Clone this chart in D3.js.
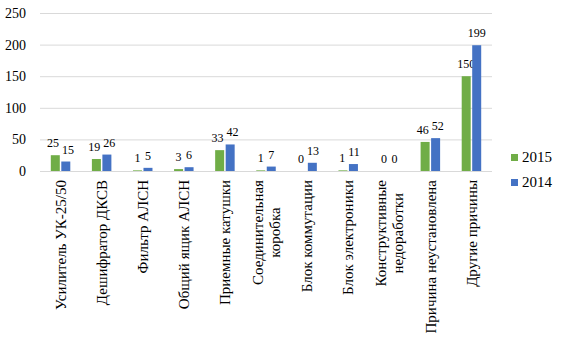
<!DOCTYPE html>
<html><head><meta charset="utf-8">
<script src="https://cdn.jsdelivr.net/npm/d3@7"></script>
<style>body{margin:0;background:#fff}svg{display:block}svg text{font-family:'Liberation Serif','Times New Roman',serif;fill:#000}</style>
</head><body><svg id="c" width="562" height="337"></svg>
<script>
const categories = [
  ["Усилитель УК-25/50"],
  ["Дешифратор ДКСВ"],
  ["Фильтр АЛСН"],
  ["Общий ящик АЛСН"],
  ["Приемные катушки"],
  ["Соединительная", "коробка"],
  ["Блок коммутации"],
  ["Блок электроники"],
  ["Конструктивные", "недоработки"],
  ["Причина неустановлена"],
  ["Другие причины"]
];
const seriesNames = ["2015", "2014"];
const values2015 = [25, 19, 1, 3, 33, 1, 0, 1, 0, 46, 150];
const values2014 = [15, 26, 5, 6, 42, 7, 13, 11, 0, 52, 199];
const yTicks = [0, 50, 100, 150, 200, 250];
const colors = ["#70AD47", "#4472C4"];

const svg = d3.select("#c");
const font = "'Liberation Serif','Times New Roman',serif";
const m = {l: 40, r: 492, t: 13, b: 171};
const x = d3.scaleBand().domain(d3.range(categories.length)).range([m.l, m.r]);
const y = d3.scaleLinear().domain([0, 250]).range([m.b, m.t]);
const bw = 9, gap = 1.5;

svg.append("g").selectAll("line").data(yTicks).join("line")
  .attr("x1", m.l).attr("x2", m.r)
  .attr("y1", d => y(d) + 0.5).attr("y2", d => y(d) + 0.5)
  .attr("stroke", "#d9d9d9").attr("stroke-width", 1);

const ya = d3.axisLeft(y).tickValues(yTicks).tickSize(0).tickPadding(0);
const yg = svg.append("g").attr("transform", `translate(26,0)`).call(ya)
  .attr("font-family", font);
yg.select(".domain").remove();
yg.selectAll("text").style("font-family", font).style("font-size", "14px").style("fill", "#000");

const series = [values2015, values2014];
const labelNodes = [[], []];
series.forEach((vals, si) => {
  const off = si === 0 ? -gap/2 - bw : gap/2;
  const g = svg.append("g");
  g.selectAll("rect").data(vals).join("rect")
    .attr("x", (d, i) => x(i) + x.bandwidth()/2 + off)
    .attr("width", bw)
    .attr("y", d => y(d))
    .attr("height", d => y(0) - y(d))
    .attr("fill", colors[si]);
  g.selectAll("text").data(vals).join("text")
    .attr("x", (d, i) => x(i) + x.bandwidth()/2 + off + bw/2)
    .attr("y", d => y(d) - 8)
    .attr("text-anchor", "middle")
    .style("font-family", font).style("font-size", "12px").style("fill", "#000")
    .text(d => d)
    .each(function(d, i) { labelNodes[si][i] = this; });
});
categories.forEach((c, i) => {
  const a = labelNodes[0][i], b = labelNodes[1][i];
  const ba = a.getBBox(), bb = b.getBBox();
  const vOverlap = !(ba.y + ba.height < bb.y || bb.y + bb.height < ba.y);
  const overlap = ba.x + ba.width + 3 - bb.x;
  if (vOverlap && overlap > 0) {
    a.setAttribute("x", +a.getAttribute("x") - overlap/2);
    b.setAttribute("x", +b.getAttribute("x") + overlap/2);
  }
});

const cg = svg.append("g");
const labelTop = 180;
categories.forEach((lines, i) => {
  const cx = x(i) + x.bandwidth()/2;
  const n = lines.length;
  const t = cg.append("text")
    .attr("transform", `translate(${cx},${labelTop}) rotate(-90)`)
    .style("font-family", font).style("font-size", "15px").style("fill", "#000");
  if (n === 1) {
    t.attr("text-anchor", "end").append("tspan").attr("x", 0).attr("dy", "0.35em").text(lines[0]);
  } else {
    lines.forEach((ln, k) => {
      t.append("tspan").attr("x", 0).attr("y", (k - (n - 1)/2) * 17).attr("dy", "0.35em").text(ln);
    });
    t.attr("text-anchor", "middle");
    const w = t.select("tspan").node().getComputedTextLength();
    t.attr("transform", `translate(${cx},${labelTop + w/2}) rotate(-90)`);
  }
});

const lg = svg.append("g");
seriesNames.forEach((s, i) => {
  const ly = 157 + i * 25;
  lg.append("rect").attr("x", 511).attr("y", ly - 3).attr("width", 7).attr("height", 7).attr("fill", colors[i]);
  lg.append("text").attr("x", 522).attr("y", ly).attr("dy", "0.35em")
    .style("font-family", font).style("font-size", "15px").style("fill", "#000").text(s);
});
</script></body></html>
